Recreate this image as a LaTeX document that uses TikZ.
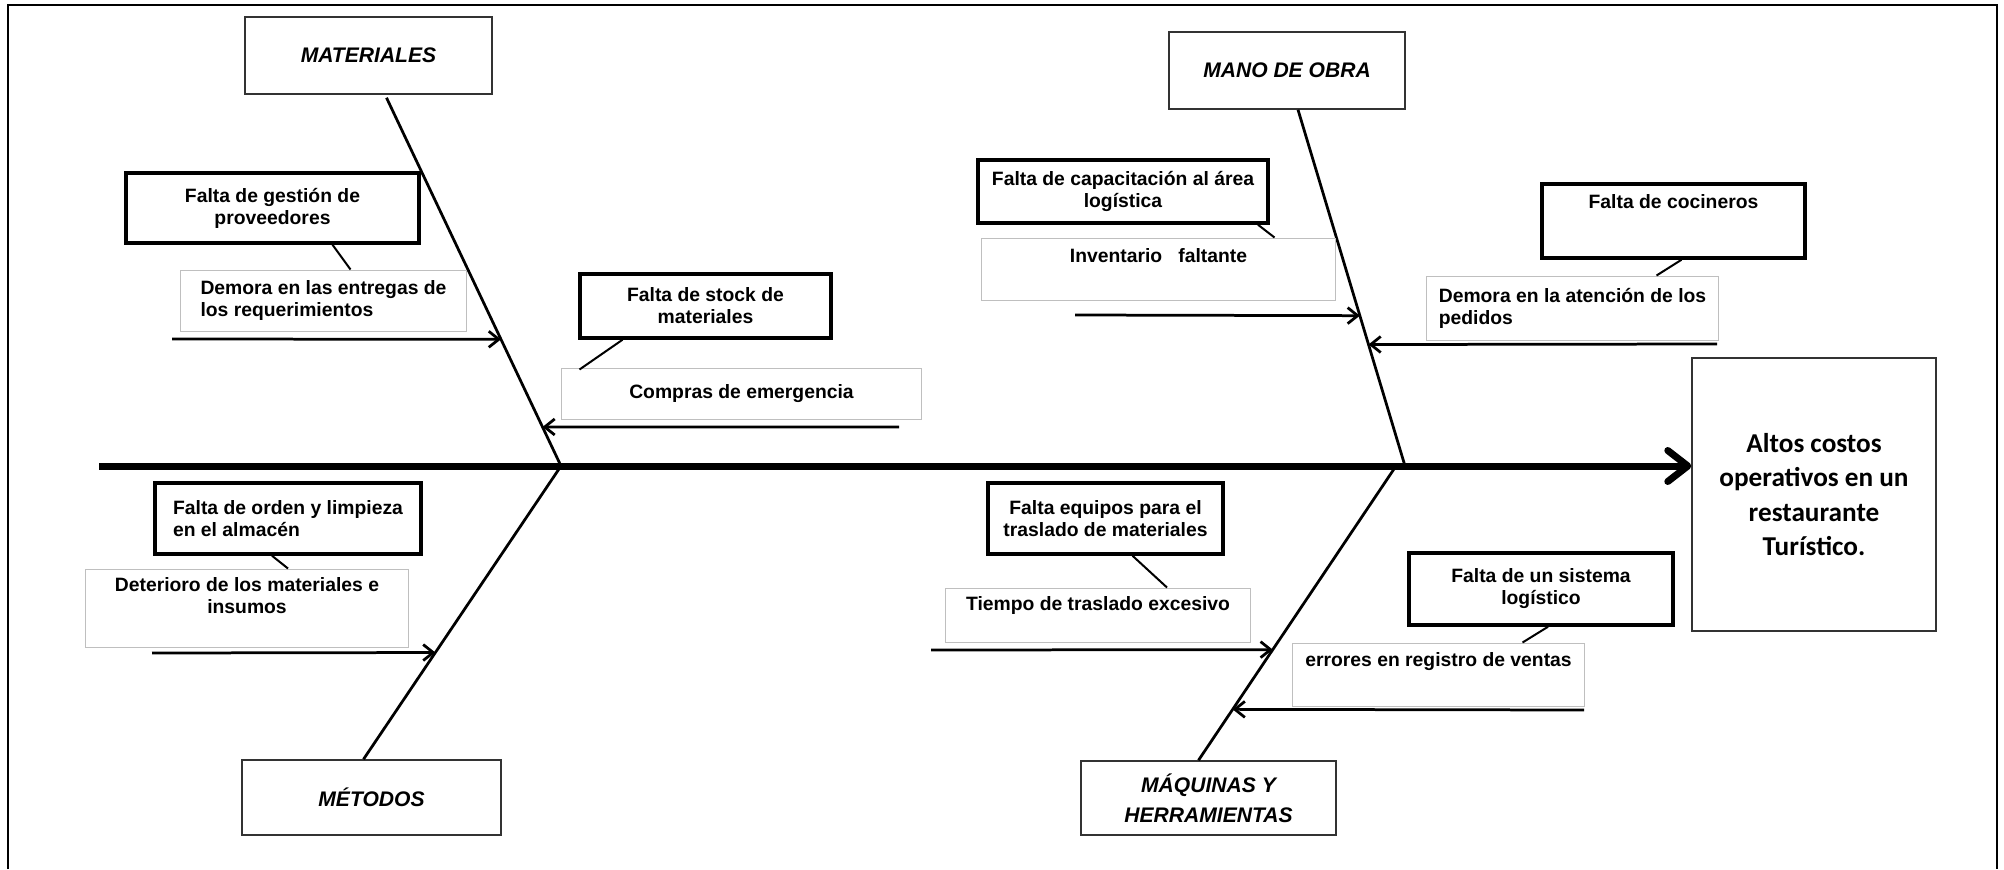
\documentclass[tikz,border=0pt]{standalone}
\usepackage{fontspec}
\setmainfont{Liberation Sans}
\newfontfamily\carlito{Carlito}
\usetikzlibrary{arrows.meta,calc}

\begin{document}
\begin{tikzpicture}[x=0.02cm, y=-0.02cm,
  categoria/.style={draw=black!80, line width=0.03cm, align=center, font=\fontsize{12}{17}\selectfont\bfseries\itshape},
  causa/.style={draw, line width=0.07cm, inner sep=2pt, align=center, font=\fontsize{11}{12.5}\selectfont\bfseries},
  efecto/.style={draw=black!25, line width=0.02cm, inner sep=2pt, align=center, font=\fontsize{11}{12.5}\selectfont\bfseries},
  resultado/.style={draw=black!80, line width=0.03cm, align=center, font=\carlito\fontsize{15.5}{19.6}\selectfont\bfseries},
  columna/.style={line width=0.14cm, -{Straight Barb[length=0.4cm, width=0.62cm, round]}},
  espina/.style={line width=0.055cm},
  flecha/.style={line width=0.055cm, -{Straight Barb[length=0.2cm, width=0.32cm]}},
  enlace/.style={line width=0.04cm},
  marco/.style={line width=0.05cm}]
\useasboundingbox (0,0) rectangle (2004,869);
% Marco
\draw[marco] (8,869) -- (8,5) -- (1997,5) -- (1997,869);

% Categorias y efecto
\node[categoria, minimum width=4.94cm, minimum height=1.54cm] (mat) at (368.5,55.5) {MATERIALES};
\node[categoria, minimum width=4.72cm, minimum height=1.54cm] (mano) at (1287,70.5) {MANO DE OBRA};
\node[categoria, minimum width=5.18cm, minimum height=1.5cm] (met) at (371.5,797.5) {MÉTODOS};
\node[categoria, minimum width=5.1cm, minimum height=1.48cm] (maq) at (1208.5,798) {MÁQUINAS Y\\HERRAMIENTAS};
\node[resultado, minimum width=4.88cm, minimum height=5.46cm] (res) at (1814,494.5) {Altos costos\\operativos en un\\restaurante\\Turístico.};

% Espina principal
\coordinate (cola) at (99,466);
\draw[columna] (cola) -- (cola -| res.west);

% Espinas
\coordinate (mt) at ($(mat.south)+(18,3)$);
\coordinate (jm) at (561,466);
\coordinate (me) at ($(met.north)+(-8,0)$);
\coordinate (mo) at ($(mano.south)+(11,0)$);
\coordinate (jo) at (1405,466);
\coordinate (jq) at (1396,466);
\coordinate (mq) at ($(maq.north)+(-10,0)$);
\draw[espina] (mt) -- (jm);
\draw[espina] (jm) -- (me);
\draw[espina] (mo) -- (jo);
\draw[espina] (jq) -- (mq);

% Causas
\node[causa, minimum width=5.86cm, minimum height=1.4cm] (c1) at (272.5,208) {Falta de gestión de\\proveedores};
\node[causa, minimum width=5.02cm, minimum height=1.28cm] (c2) at (705.5,306) {Falta de stock de\\materiales};
\node[causa, minimum width=5.8cm, minimum height=1.26cm] (c3) at (1123,191.5) {Falta de capacitación al área\\logística};
\node[causa, minimum width=5.26cm, minimum height=1.48cm, text depth=0.79cm] (c4) at (1673.5,221) {Falta de cocineros};
\node[causa, minimum width=5.32cm, minimum height=1.42cm, align=left] (c5) at (288,518.5) {Falta de orden y limpieza\\en el almacén};
\node[causa, minimum width=4.7cm, minimum height=1.42cm] (c6) at (1105.5,518.5) {Falta equipos para el\\traslado de materiales};
\node[causa, minimum width=5.28cm, minimum height=1.44cm] (c7) at (1541,589) {Falta de un sistema\\logístico};

% Efectos
\node[efecto, minimum width=5.74cm, minimum height=1.22cm, align=left] (e1) at (323.5,300.5) {Demora en las entregas de\\los requerimientos};
\node[efecto, minimum width=7.22cm, minimum height=1.02cm] (e2) at (741.5,393.5) {Compras de emergencia};
\node[efecto, minimum width=7.1cm, minimum height=1.26cm, text depth=0.57cm] (e3) at (1158.5,269.5) {Inventario\ \ \ faltante};
\node[efecto, minimum width=5.86cm, minimum height=1.28cm, align=left] (e4) at (1572.5,308) {Demora en la atención de los\\pedidos};
\node[efecto, minimum width=6.48cm, minimum height=1.56cm, text depth=0.51cm] (e5) at (247,608) {Deterioro de los materiales e\\insumos};
\node[efecto, minimum width=6.12cm, minimum height=1.08cm, text depth=0.47cm] (e6) at (1098,615) {Tiempo de traslado excesivo};
\node[efecto, minimum width=5.86cm, minimum height=1.26cm, text depth=0.61cm] (e7) at (1438.5,674.5) {errores en registro de ventas};

% Enlaces causa - efecto
\draw[enlace] ($(c1.south)+(60,0)$) -- ($(e1.north)+(27,0)$);
\draw[enlace] ($(c2.south)+(-83,0)$) -- ($(e2.north)+(-162,2)$);
\draw[enlace] ($(c3.south)+(135,0)$) -- ($(e3.north)+(116,0)$);
\draw[enlace] ($(c4.south)+(8,0)$) -- ($(e4.north)+(84,0)$);
\draw[enlace] ($(c5.south)+(-16,0)$) -- ($(e5.north)+(41,0)$);
\draw[enlace] ($(c6.south)+(27,0)$) -- ($(e6.north)+(69,0)$);
\draw[enlace] ($(c7.south)+(7,0)$) -- ($(e7.north)+(84,0)$);

% Flechas hacia las espinas
\coordinate (a1) at (172,339);
\coordinate (a2) at (899,427);
\coordinate (a3) at (1075,315);
\coordinate (a4) at (1717,344);
\coordinate (a5) at (152,653);
\coordinate (a6) at (931,650);
\coordinate (a7) at (1584,710);
\draw[flecha] (a1) -- ($(mt)!0.656!(jm)$);
\draw[flecha] (a2) -- ($(mt)!0.894!(jm)$);
\draw[flecha] (a3) -- ($(mo)!0.578!(jo)$);
\draw[flecha] (a4) -- ($(mo)!0.659!(jo)$);
\draw[flecha] (a5) -- ($(jm)!0.636!(me)$);
\draw[flecha] (a6) -- ($(jq)!0.624!(mq)$);
\draw[flecha] (a7) -- ($(jq)!0.827!(mq)$);
\end{tikzpicture}
\end{document}
